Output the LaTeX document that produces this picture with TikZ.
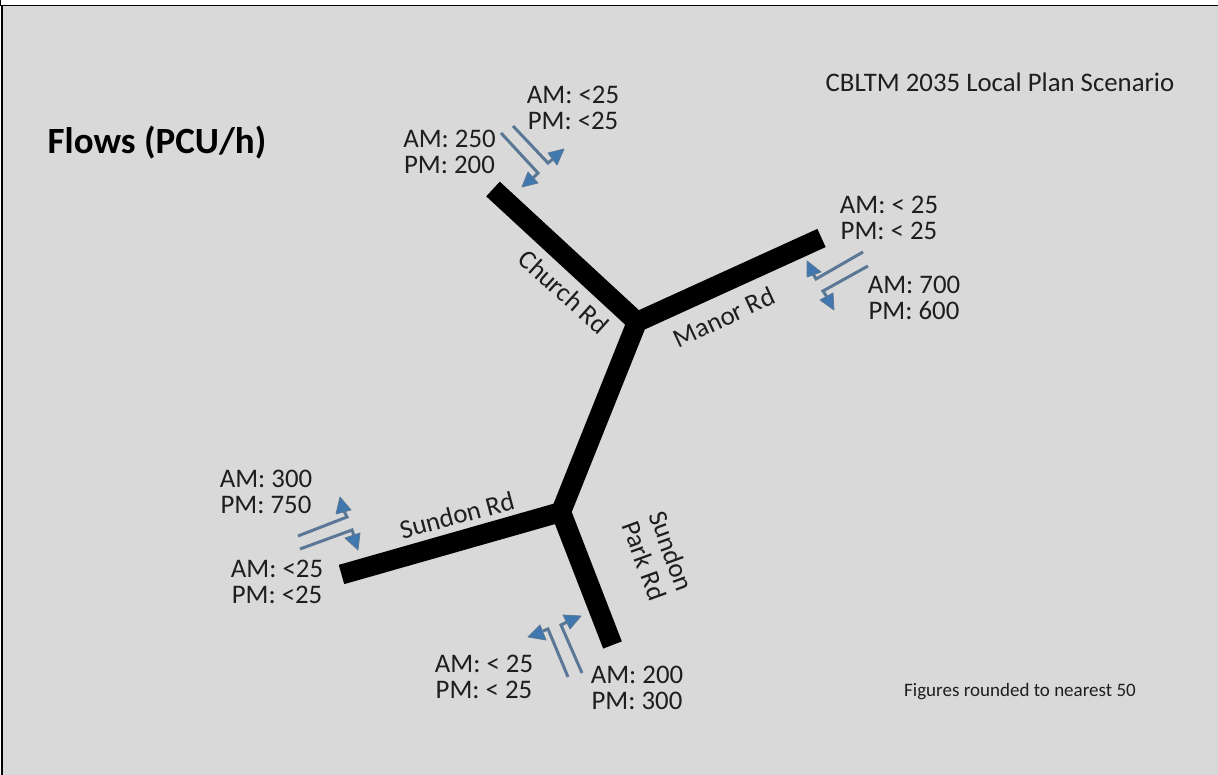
\documentclass[tikz,border=0pt]{standalone}
\usepackage{fontspec}
\setmainfont{Carlito}
\definecolor{bggrey}{HTML}{D9D9D9}
\definecolor{flowline}{HTML}{5A7896}
\definecolor{flowhead}{HTML}{3F77AE}
\definecolor{inktext}{HTML}{1E1E1E}
\tikzset{
  road/.style={line width=20pt,draw=black,line cap=butt,line join=miter},
  flowshaft/.style={draw=flowline,line width=3pt,line join=miter},
  flowtip/.style={fill=flowhead,draw=flowline,line width=0.8pt,line join=round},
  flowlabel/.style={font=\fontsize{26.8}{26}\selectfont,text=inktext,align=center,inner sep=0pt},
  roadlabel/.style={font=\fontsize{26.8}{29}\selectfont,text=inktext,align=center,inner sep=0pt},
}
% start, corner, base mid, tip, base 1, base 2
\newcommand{\flowarrow}[6]{%
  \draw[flowshaft] #1 -- #2 -- #3;
  \filldraw[flowtip] #4 -- #5 -- #6 -- cycle;
}
\begin{document}
\begin{tikzpicture}[x=1pt,y=-1pt]
\useasboundingbox (0,0) rectangle (1218,775);
\fill[white] (0,0) rectangle (1218,775);
\fill[bggrey] (2,5) rectangle (1218,775);
\draw[black,line width=1.2pt] (0,5.2) -- (1218,5.2);
\draw[black,line width=2.2pt] (1.6,5) -- (1.6,775);
\draw[black,line width=0.8pt] (0.4,0) -- (0.4,5);

\coordinate (churchEnd) at (493,189);
\coordinate (manorEnd) at (821.5,238);
\coordinate (north) at (637,322);
\coordinate (south) at (561,512);
\coordinate (sundonEnd) at (341.5,574.5);
\coordinate (parkEnd) at (612.5,645);
\draw[road] (churchEnd) -- (north) -- (manorEnd);
\draw[road] (north) -- (south);
\draw[road] (sundonEnd) -- (south) -- (parkEnd);

\flowarrow{(501,133)}{(538,173)}{(533,178)}{(522,187)}{(538,183)}{(528,172)}
\flowarrow{(513,126)}{(548,163)}{(553,159)}{(564,149)}{(548,153)}{(557,165)}
\flowarrow{(863,252)}{(816,279)}{(812,272)}{(807,261)}{(807,277)}{(821,272)}
\flowarrow{(868,266)}{(823,291)}{(827,297)}{(834,310)}{(820,300)}{(833,293)}
\flowarrow{(298,536)}{(347,517)}{(344,511)}{(340,497)}{(336,514)}{(351,510)}
\flowarrow{(300,549)}{(352,530)}{(354,536)}{(358,550)}{(345,538)}{(360,533)}
\flowarrow{(568,677)}{(548,629)}{(543,631)}{(528,637)}{(540,625)}{(546,640)}
\flowarrow{(582,673)}{(561,625)}{(567,622)}{(581,616)}{(563,615)}{(570,629)}

\node[flowlabel] (lchurchin) at (449.5,152) {AM: 250\\PM: 200};
\node[flowlabel] (lchurchout) at (573,108) {AM: <25\\PM: <25};
\node[flowlabel] (lmanorout) at (889,218) {AM: < 25\\PM: < 25};
\node[flowlabel] (lmanorin) at (914,298) {AM: 700\\PM: 600};
\node[flowlabel] (lsundonout) at (266,492) {AM: 300\\PM: 750};
\node[flowlabel] (lsundonin) at (277,582) {AM: <25\\PM: <25};
\node[flowlabel] (lparkout) at (484,677) {AM: < 25\\PM: < 25};
\node[flowlabel] (lparkin) at (637,688) {AM: 200\\PM: 300};

\node[roadlabel,rotate=-42] (rchurch) at (564,292) {Church Rd};
\node[roadlabel,rotate=25] (rmanor) at (724,317) {Manor Rd};
\node[roadlabel,rotate=15] (rsundon) at (457,515) {Sundon Rd};
\node[roadlabel,rotate=-70] (rpark) at (658,556) {Sundon\\Park Rd};

\node[font=\bfseries\fontsize{37}{39}\selectfont,text=black,inner sep=0pt] (title) at (157,143) {Flows (PCU/h)};
\node[font=\fontsize{26.8}{28}\selectfont,text=inktext,inner sep=0pt] (scenario) at (1000,82) {CBLTM 2035 Local Plan Scenario};
\node[font=\fontsize{19}{20}\selectfont,text=inktext,inner sep=0pt] (note) at (1020,692) {Figures rounded to nearest 50};
\end{tikzpicture}
\end{document}
